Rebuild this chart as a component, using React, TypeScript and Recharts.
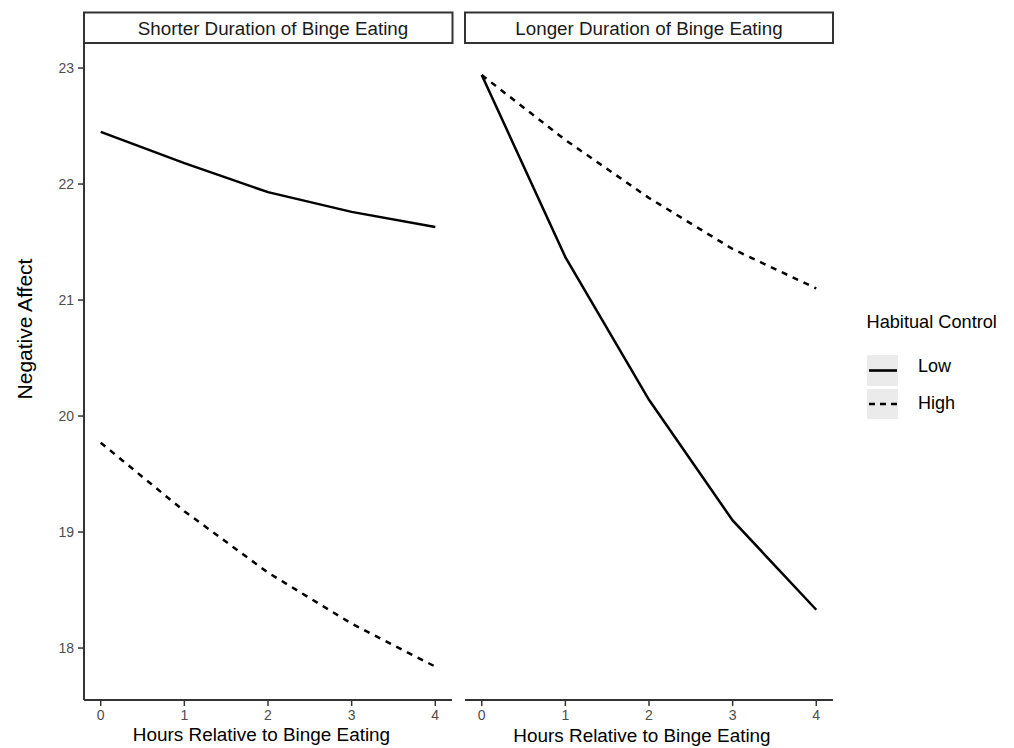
import React from 'react';
import { LineChart, Line, XAxis, YAxis } from 'recharts';

const hours = [0, 1, 2, 3, 4];
const shorterLow = [22.45, 22.18, 21.93, 21.76, 21.63];
const shorterHigh = [19.77, 19.18, 18.65, 18.21, 17.84];
const longerLow = [22.94, 21.37, 20.14, 19.1, 18.33];
const longerHigh = [22.94, 22.38, 21.88, 21.44, 21.1];
const yTicks = [18, 19, 20, 21, 22, 23];
const xTicks = [0, 1, 2, 3, 4];
const panelTitles = ['Shorter Duration of Binge Eating', 'Longer Duration of Binge Eating'];
const legendTitle = 'Habitual Control';
const legendLabels = ['Low', 'High'];
const xTitle = 'Hours Relative to Binge Eating';
const yTitle = 'Negative Affect';

const shorterData = hours.map((h, i) => ({ hour: h, low: shorterLow[i], high: shorterHigh[i] }));
const longerData = hours.map((h, i) => ({ hour: h, low: longerLow[i], high: longerHigh[i] }));

const FONT = '"Liberation Sans", Arial, Helvetica, sans-serif';
const X_DOMAIN: [number, number] = [-0.2, 4.2];
const Y_DOMAIN: [number, number] = [17.552, 23.216];
const AXIS_COLOR = '#333333';
const TICK_COLOR = '#4d4d4d';
const LINE_W = 2.5;
const DASH = '6 6';

function Panel({ data, showY }: { data: any[]; showY: boolean }) {
  return (
    <LineChart
      width={showY ? 460 : 400}
      height={748}
      data={data}
      margin={showY ? { top: 43, right: 8, bottom: 18, left: 40 } : { top: 43, right: 7, bottom: 18, left: 25 }}
    >
      <XAxis
        dataKey="hour"
        type="number"
        domain={X_DOMAIN}
        ticks={xTicks}
        allowDataOverflow
        height={30}
        tickSize={6}
        tickMargin={4}
        axisLine={{ stroke: AXIS_COLOR, strokeWidth: 2 }}
        tickLine={{ stroke: AXIS_COLOR, strokeWidth: 1.5 }}
        tick={{ fill: TICK_COLOR, fontSize: 14, fontFamily: FONT }}
      />
      <YAxis
        yAxisId="l"
        type="number"
        domain={Y_DOMAIN}
        ticks={yTicks}
        allowDataOverflow
        width={showY ? 44 : 0}
        tickSize={showY ? 6 : 0}
        tickMargin={4}
        axisLine={{ stroke: AXIS_COLOR, strokeWidth: 2 }}
        tickLine={showY ? { stroke: AXIS_COLOR, strokeWidth: 1.5 } : false}
        tick={showY ? { fill: TICK_COLOR, fontSize: 14, fontFamily: FONT } : false}
      />
      <YAxis
        yAxisId="r"
        orientation="right"
        type="number"
        domain={Y_DOMAIN}
        width={0}
        tick={false}
        tickLine={false}
        axisLine={{ stroke: AXIS_COLOR, strokeWidth: 2 }}
      />
      <Line
        yAxisId="l"
        type="linear"
        dataKey="low"
        stroke="#000"
        strokeWidth={LINE_W}
        dot={false}
        isAnimationActive={false}
      />
      <Line
        yAxisId="l"
        type="linear"
        dataKey="high"
        stroke="#000"
        strokeWidth={LINE_W}
        strokeDasharray={DASH}
        dot={false}
        isAnimationActive={false}
      />
    </LineChart>
  );
}

export default function App() {
  return (
    <div style={{ position: 'absolute', left: 0, top: 0, width: 1014, height: 748, background: '#fff', fontFamily: FONT }}>
      <div style={{ position: 'absolute', left: 0, top: 0 }}>
        <Panel data={shorterData} showY={true} />
      </div>
      <div style={{ position: 'absolute', left: 440, top: 0 }}>
        <Panel data={longerData} showY={false} />
      </div>
      <svg
        width={1014}
        height={748}
        style={{ position: 'absolute', left: 0, top: 0, pointerEvents: 'none' }}
        fontFamily={FONT}
      >
        <rect x={84} y={12.5} width={368.5} height={30.5} fill="#fff" stroke={AXIS_COLOR} strokeWidth={2} />
        <rect x={465} y={12.5} width={368} height={30.5} fill="#fff" stroke={AXIS_COLOR} strokeWidth={2} />
        <text x={273} y={34.5} textAnchor="middle" fontSize={18.8} fill="#1a1a1a">{panelTitles[0]}</text>
        <text x={649} y={34.5} textAnchor="middle" fontSize={18.8} fill="#1a1a1a">{panelTitles[1]}</text>

        <text x={261.5} y={741} textAnchor="middle" fontSize={18.9} fill="#000">{xTitle}</text>
        <text x={642} y={742} textAnchor="middle" fontSize={18.9} fill="#000">{xTitle}</text>
        <text transform="translate(31.5,329) rotate(-90)" textAnchor="middle" fontSize={21} fill="#000">{yTitle}</text>

        <text x={866.5} y={327.5} fontSize={18.2} fill="#000">{legendTitle}</text>
        <rect x={867} y={355} width={31} height={31} fill="#ebebeb" />
        <rect x={867} y={389} width={31} height={30} fill="#ebebeb" />
        <line x1={869} x2={897} y1={370.5} y2={370.5} stroke="#000" strokeWidth={2.6} />
        <line x1={869} x2={897} y1={404} y2={404} stroke="#000" strokeWidth={2.6} strokeDasharray="6 5" />
        <text x={918} y={371.5} fontSize={18} fill="#000">{legendLabels[0]}</text>
        <text x={918} y={408.5} fontSize={18} fill="#000">{legendLabels[1]}</text>
      </svg>
    </div>
  );
}
